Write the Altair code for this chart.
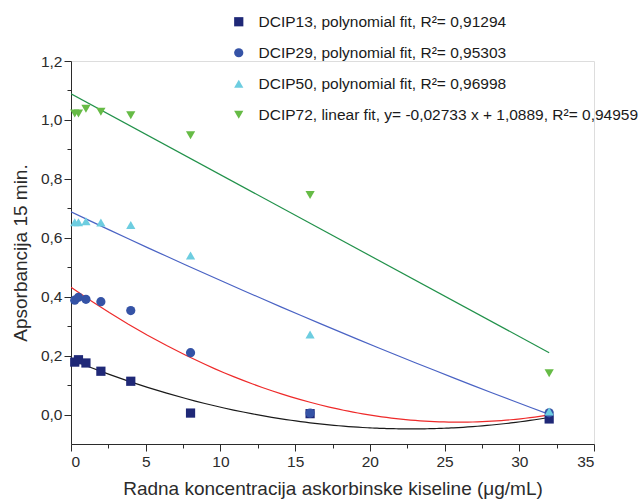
import altair as alt
import pandas as pd

conc = [0.25, 0.5, 1, 2, 4, 8, 16, 32]
dcip13 = [0.178, 0.186, 0.175, 0.147, 0.113, 0.005, 0.003, -0.015]
dcip29 = [0.388, 0.398, 0.391, 0.383, 0.353, 0.210, 0.005, 0.006]
dcip50 = [0.653, 0.653, 0.656, 0.652, 0.643, 0.540, 0.272, 0.010]
dcip72 = [1.022, 1.022, 1.038, 1.028, 1.016, 0.948, 0.745, 0.140]

series_values = [dcip13, dcip29, dcip50, dcip72]
labels = [
    "DCIP13, polynomial fit, R²= 0,91294",
    "DCIP29, polynomial fit, R²= 0,95303",
    "DCIP50, polynomial fit, R²= 0,96998",
    "DCIP72, linear fit, y= -0,02733 x + 1,0889, R²= 0,94959",
]
fit_methods = ["poly", "poly", "poly", "linear"]
marker_colors = ["#1f2877", "#3553a6", "#6dcde0", "#66bb46"]
fit_colors = ["#1a1a1a", "#ee2a2a", "#4a63c4", "#21914a"]
shapes = ["square", "circle", "triangle-up", "triangle-down"]

x_major = [0, 5, 10, 15, 20, 25, 30, 35]
x_minor = [2.5, 7.5, 12.5, 17.5, 22.5, 27.5, 32.5]
y_major = [0.0, 0.2, 0.4, 0.6, 0.8, 1.0, 1.2]
y_minor = [0.1, 0.3, 0.5, 0.7, 0.9, 1.1]

rows = []
for lab, vals in zip(labels, series_values):
    for c, v in zip(conc, vals):
        rows.append({"series": lab, "x": c, "y": v})
df = pd.DataFrame(rows)

FONT = "Liberation Sans"
AX = "#2b2b2b"

xscale = alt.Scale(domain=[0, 35], nice=False, zero=False)
yscale = alt.Scale(domain=[-0.1, 1.2], nice=False, zero=False)

x_axis = alt.Axis(values=x_major, grid=False, domainColor=AX, tickColor=AX, tickSize=7,
                  labelFontSize=15.5, labelColor=AX, labelFont=FONT, labelPadding=3,
                  titleFont=FONT, titleFontSize=19, titleFontWeight="normal", titleColor=AX,
                  titlePadding=10, orient="bottom")
y_axis = alt.Axis(values=y_major, grid=False, domainColor=AX, tickColor=AX, tickSize=7,
                  labelFontSize=15.5, labelColor=AX, labelFont=FONT, labelPadding=2,
                  labelExpr="replace(format(datum.value, '.1f'), '.', ',')",
                  titleFont=FONT, titleFontSize=19, titleFontWeight="normal", titleColor=AX,
                  titlePadding=10, orient="left")
x_axis_minor = alt.Axis(values=x_minor, grid=False, domain=False, labels=False, tickColor=AX,
                        tickSize=4, title=None, orient="bottom")
y_axis_minor = alt.Axis(values=y_minor, grid=False, domain=False, labels=False, tickColor=AX,
                        tickSize=4, title=None, orient="left")

minor = alt.Chart(df).mark_point(opacity=0).encode(
    x=alt.X("x:Q", scale=xscale, axis=x_axis_minor),
    y=alt.Y("y:Q", scale=yscale, axis=y_axis_minor),
)

points = alt.Chart(df).mark_point(filled=True, size=85, opacity=1, strokeWidth=0).encode(
    x=alt.X("x:Q", scale=xscale, axis=x_axis,
            title="Radna koncentracija askorbinske kiseline (μg/mL)"),
    y=alt.Y("y:Q", scale=yscale, axis=y_axis, title="Apsorbancija 15 min."),
    color=alt.Color("series:N", scale=alt.Scale(domain=labels, range=marker_colors),
                    legend=alt.Legend(title=None, orient="none", legendX=160, legendY=-47,
                                      labelFont=FONT, labelFontSize=15.5, labelColor="#1a1a1a",
                                      symbolSize=85, symbolStrokeWidth=0, rowPadding=14,
                                      labelOffset=12, labelLimit=600)),
    shape=alt.Shape("series:N", scale=alt.Scale(domain=labels, range=shapes), legend=None),
)

fit_layers = []
for lab, method, col in zip(labels, fit_methods, fit_colors):
    if method == "poly":
        reg = alt.Chart(df).transform_filter(alt.datum.series == lab).transform_regression(
            "x", "y", method="poly", order=2, extent=[0, 32])
    else:
        reg = alt.Chart(df).transform_filter(alt.datum.series == lab).transform_regression(
            "x", "y", method="linear", extent=[0, 32])
    fit_layers.append(reg.mark_line(color=col, strokeWidth=1.2, clip=True).encode(
        x=alt.X("x:Q", scale=xscale, axis=None),
        y=alt.Y("y:Q", scale=yscale, axis=None),
    ))

chart = alt.layer(minor, *fit_layers, points).resolve_axis(
    x="independent", y="independent"
).properties(
    width=523, height=383,
    autosize=alt.AutoSizeParams(type="none"),
    padding={"left": 71, "top": 61, "right": 46, "bottom": 58},
).configure_view(strokeWidth=0, stroke="transparent").configure(background="white")

chart.save("out.html", embed_options={"renderer": "svg", "actions": False})
